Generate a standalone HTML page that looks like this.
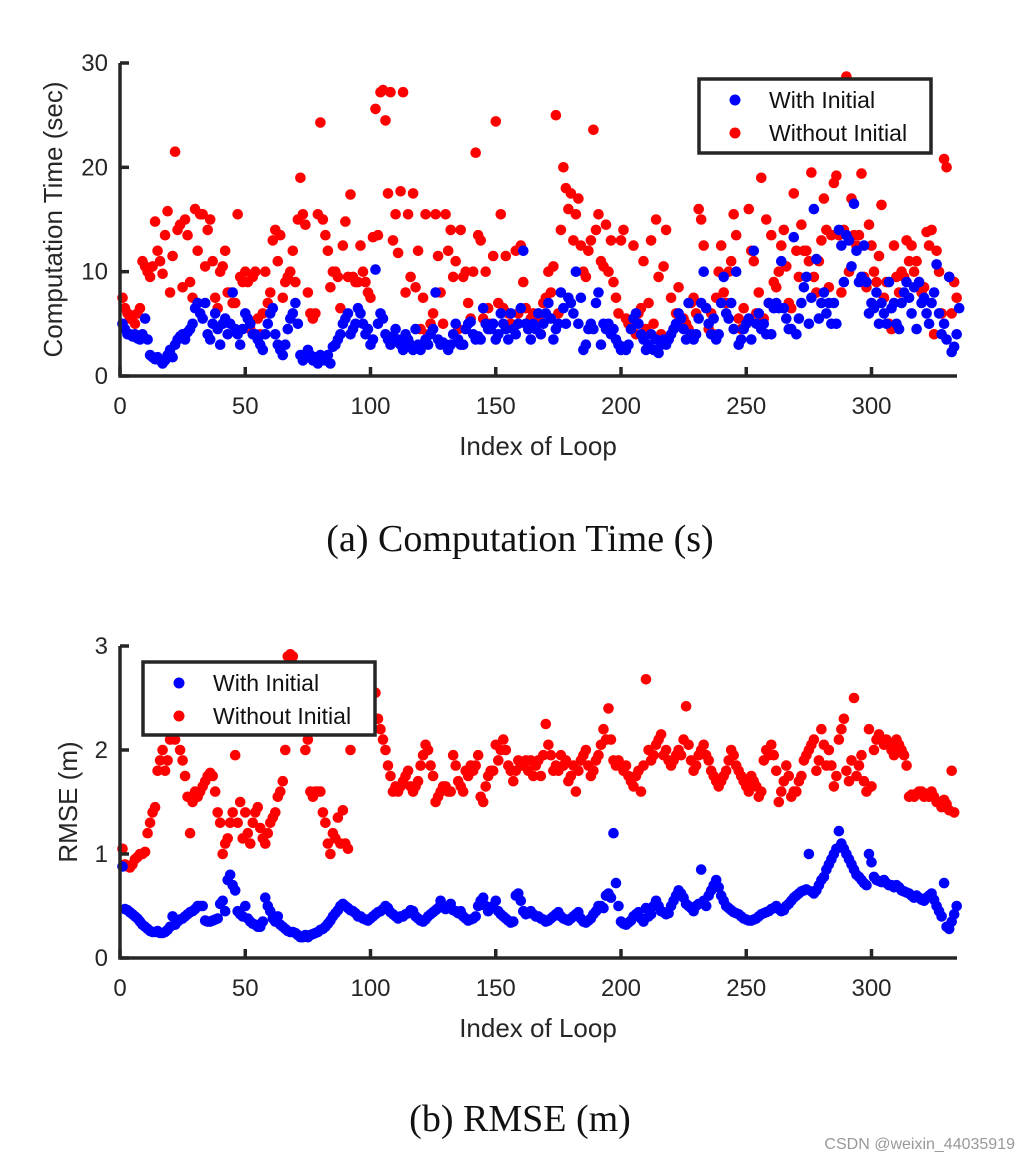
<!DOCTYPE html>
<html><head><meta charset="utf-8">
<style>
html,body{margin:0;padding:0;background:#fff;}
svg{display:block;font-family:"Liberation Sans",sans-serif;}
.tick{font-size:24px;fill:#262626;}
.lab{font-size:26px;fill:#262626;}
.cap{font-family:"Liberation Serif",serif;font-size:38px;fill:#111;}
</style></head>
<body>
<svg id="fig" width="1031" height="1163" viewBox="0 0 1031 1163">
<g id="chartA"></g>
<g id="chartB"></g>
<text class="cap" x="520" y="551" text-anchor="middle">(a)  Computation Time (s)</text>
<text class="cap" x="520" y="1131" text-anchor="middle">(b)  RMSE (m)</text>
<text x="1015" y="1149" text-anchor="end" font-size="16" fill="#999">CSDN @weixin_44035919</text>
</svg>
<script>
const xTicks=[0,50,100,150,200,250,300];
const yTicksA=[0,10,20,30];
const yTicksB=[0,1,2,3];
const timeWith=[5,4.5,4,4,3.8,4,3.6,3.5,4,5.5,3.5,2,1.8,1.6,1.8,1.5,1.2,1.5,2,2.5,1.8,3,3.5,3.8,4,3.5,4.2,4.5,5,6.5,7,6,5.5,7,4,3.5,5,6,4.5,3,5,5.5,4,5,8,4.5,4,3,4.5,6,5.5,5,4,4,3.5,3,2.5,4,5,6,6.5,4,3,2.5,2,3,4.5,5.5,6,7,5,2,1.5,2,2.5,2,1.5,1.8,1.2,2,1.8,1.5,2,1.2,2.8,3,3.5,4,5,5.5,6,4,4.5,5,6.5,6,5,4,4.5,3,3.5,10.2,5,6,5.5,4,3.5,3,3.8,4.5,3.5,3,2.5,4,3.5,3,2.5,4.5,3,2.5,3,3.5,3,4,4.5,8,3.5,3,3.2,3,2.5,3,4,5,3.5,3,3,4.5,5,5.2,4,3.5,3.8,3.5,6.5,5,4.5,4.5,5,3.5,4,6,5,4.5,3.5,6,4.5,4,5,6.5,12,5,4.5,3.5,5,4.5,6,4,5,6,7,5.5,3.5,4.5,5,8,6.5,5,7.5,7,6,10,5,7.5,2.5,3,4.5,5,4.5,7,8,3,5,4.5,5,4,4.5,3.5,3,2.5,2.8,2.5,3,4.5,5.5,6,5,4,3.5,2.5,3,4,2.5,3.5,2.2,3,3.5,3,3.5,4,4.5,5,6,5.5,4.5,3.5,7,4,3.5,4,5.5,7,10,6.5,5,4,5.5,3.5,4,7,9.5,6,5.5,7,4.5,10,3,3.5,4.5,5,5.5,3.5,12,5,6,4.5,5,4,7,4,6.5,7,6.5,11,6.5,5.5,4.5,4.5,13.3,4,5.5,7,8.5,9.5,5,7.5,16,11.2,5.5,7,8,6,7,5,7,5,14,12.5,9,13.5,13,10.5,16.5,12,9,9.5,12.5,9,6,7,6.5,8,5,7,6,5,9,6.5,7,5,4.5,7,8,9,7.5,6,8.5,4.5,9,7,7.5,6,5,7,8,10.7,6,4,5,3.5,9.5,2.3,2.8,4,6.5];
const timeWithout=[7.5,6.5,6,5.5,5.8,5,6,6.5,11,10.5,10,9.5,10.5,14.8,12,11,9.8,13.5,15.8,8,11.5,21.5,14,14.5,8.5,15,13.5,9,7.5,16,12,15.5,15.5,10.5,14,15,11,7.5,6.5,10,10.5,12,8,8,7,7,15.5,9.5,9,10,9,4.5,9.5,10,5.5,4,6,10,7,8,13,14,11,13.5,7.5,9,9.5,10,12,9,15,19,15.5,14.5,8,6,5.5,6,15.5,24.3,15,13.5,12,8.5,10,10,9.5,6.5,12.5,14.8,9.5,17.4,9.5,9,9,12.5,10,9,8,7.5,13.3,25.6,13.5,27.2,27.4,24.5,17.5,27.2,13,15.5,11.8,17.7,27.2,8,15.5,9.5,17.5,8.5,12,4.5,7.5,15.5,4,5,6,15.5,11.5,8,5,15.5,12,14,9.5,11,4.5,14,9.5,10,7,5.5,10,21.4,13.5,13,5.5,10,6.5,5,11.5,24.4,7,15.5,6.5,11.5,6,5,4.8,12,6,12.5,9,6.5,4.5,5.5,6,4.5,5.5,4,7,7.5,10,8,10.5,25,6,14,20,18,16,17.5,13,15.5,17,12.5,10,9.5,12,13,23.6,14,15.5,11,10.5,14.5,10,13,9,7.5,6,13,14,5.5,5,4.5,12.5,4,6,6.5,11,4.5,7,13,5,15,9.5,4,10.5,14,3.5,7.5,4.5,6,8.5,5,5.5,5,4.5,7,7.5,6,16,15,12.5,6.5,4.5,6,4,7.5,10,12.5,8,7,10,11,15.5,13.5,5.5,4.5,6.5,5,16,12,11,6,8,19,5.5,15,7,13.5,9,8.5,10,12.5,14,10.5,7,6.5,17.5,12,9.5,14.5,12,12,11,19.5,9.5,8,11,13,17,14,8.5,13.5,18.5,19.2,13.5,8,14,28.7,10,17,13.5,12.5,13.5,19.4,9.5,8.5,14.5,12.5,10,9,11.5,16.4,7.5,9,5,4.5,12.5,9.5,8,10,9.5,13,11,12.5,10,11,9,8,8.5,13.8,12.5,14,4,12,10,6,20.8,20,9.5,6,9,7.5];
const rmseWith=[0.88,0.47,0.46,0.44,0.42,0.4,0.38,0.35,0.32,0.3,0.28,0.26,0.25,0.25,0.26,0.24,0.24,0.25,0.27,0.3,0.4,0.32,0.35,0.37,0.38,0.4,0.42,0.44,0.45,0.47,0.5,0.5,0.5,0.36,0.35,0.35,0.36,0.37,0.38,0.52,0.55,0.45,0.75,0.8,0.7,0.65,0.45,0.42,0.4,0.5,0.38,0.35,0.33,0.32,0.3,0.3,0.35,0.58,0.5,0.45,0.38,0.35,0.4,0.32,0.3,0.28,0.26,0.25,0.25,0.24,0.22,0.2,0.2,0.22,0.2,0.22,0.23,0.24,0.25,0.27,0.28,0.3,0.33,0.36,0.4,0.43,0.46,0.5,0.52,0.5,0.48,0.46,0.45,0.43,0.4,0.4,0.38,0.37,0.36,0.38,0.4,0.42,0.44,0.45,0.47,0.5,0.48,0.44,0.42,0.4,0.38,0.4,0.4,0.42,0.43,0.46,0.45,0.4,0.38,0.36,0.35,0.37,0.4,0.42,0.44,0.46,0.48,0.55,0.5,0.47,0.48,0.52,0.46,0.45,0.43,0.45,0.4,0.38,0.36,0.37,0.38,0.4,0.5,0.55,0.58,0.5,0.45,0.48,0.5,0.55,0.45,0.42,0.4,0.38,0.36,0.34,0.35,0.6,0.62,0.55,0.45,0.42,0.43,0.45,0.42,0.4,0.4,0.38,0.37,0.35,0.36,0.38,0.4,0.42,0.44,0.4,0.38,0.37,0.36,0.38,0.4,0.42,0.44,0.38,0.35,0.34,0.36,0.38,0.42,0.45,0.5,0.5,0.48,0.6,0.62,0.58,1.2,0.72,0.5,0.35,0.33,0.32,0.34,0.36,0.4,0.42,0.44,0.38,0.35,0.48,0.4,0.42,0.5,0.55,0.5,0.45,0.44,0.42,0.43,0.5,0.55,0.6,0.65,0.62,0.58,0.52,0.5,0.48,0.45,0.5,0.52,0.85,0.55,0.5,0.6,0.65,0.7,0.75,0.68,0.6,0.55,0.5,0.48,0.46,0.44,0.43,0.42,0.4,0.38,0.37,0.36,0.36,0.37,0.38,0.4,0.42,0.43,0.44,0.45,0.47,0.48,0.5,0.47,0.45,0.46,0.5,0.52,0.55,0.58,0.6,0.62,0.64,0.65,0.66,1.0,0.64,0.62,0.65,0.7,0.75,0.78,0.85,0.9,0.95,1.0,1.05,1.22,1.1,1.05,1.0,0.95,0.9,0.85,0.8,0.78,0.75,0.72,0.7,1.0,0.92,0.78,0.75,0.74,0.73,0.75,0.72,0.7,0.7,0.68,0.7,0.68,0.65,0.64,0.63,0.62,0.6,0.58,0.6,0.58,0.56,0.55,0.58,0.6,0.62,0.56,0.5,0.45,0.4,0.72,0.3,0.28,0.35,0.42,0.5];
const rmseWithout=[1.05,0.9,0.88,0.87,0.9,0.95,0.97,1.0,1.0,1.02,1.2,1.3,1.4,1.45,1.8,1.9,2.0,1.8,1.9,2.1,2.15,2.1,2.2,2.0,1.9,1.75,1.55,1.2,1.5,1.6,1.55,1.6,1.65,1.7,1.75,1.78,1.75,1.6,1.4,1.3,1.0,1.1,1.15,1.3,1.4,1.95,1.3,1.5,1.15,1.4,1.2,1.1,1.3,1.4,1.45,1.25,1.15,1.1,1.2,1.3,1.35,1.4,1.55,1.6,1.7,2.0,2.9,2.92,2.9,2.8,2.6,2.5,2.2,2.0,2.1,1.6,1.55,1.6,1.6,1.6,1.4,1.3,1.1,1.0,1.2,1.15,1.35,1.1,1.42,1.1,1.05,2.0,2.3,2.3,2.4,2.35,2.6,2.35,2.3,2.2,2.3,2.55,2.3,2.2,2.1,2.0,1.85,1.75,1.6,1.65,1.6,1.65,1.7,1.75,1.8,1.65,1.6,1.65,1.7,1.85,1.95,2.05,2.0,1.85,1.75,1.5,1.55,1.6,1.65,1.65,1.6,1.6,1.95,1.85,1.7,1.65,1.6,1.8,1.75,1.85,1.8,1.85,1.95,1.55,1.5,1.65,1.75,1.8,1.8,2.05,1.9,2.0,2.1,2.0,1.85,1.8,1.7,1.8,1.9,1.85,1.85,1.9,1.8,1.9,1.75,1.85,1.9,1.75,1.95,2.25,2.05,1.95,1.8,1.85,1.8,1.95,1.85,1.9,1.7,1.75,1.85,1.6,1.8,1.9,1.95,2.0,1.85,1.75,1.8,1.9,1.95,2.05,2.2,2.1,2.4,2.1,1.9,1.85,1.9,1.85,1.8,1.85,1.75,1.7,1.65,1.75,1.8,1.6,1.85,2.68,2.0,1.9,1.95,2.05,2.1,2.15,1.95,2.0,1.9,1.85,1.9,1.95,2.0,1.95,2.1,2.42,2.05,1.9,1.8,1.85,1.95,2.0,2.05,1.95,1.9,1.8,1.75,1.7,1.65,1.7,1.75,1.8,1.9,2.0,1.95,1.85,1.8,1.75,1.7,1.65,1.6,1.75,1.7,1.65,1.55,1.6,1.9,2.0,1.95,2.05,1.95,1.8,1.5,1.6,1.7,1.85,1.75,1.55,1.6,1.6,1.7,1.75,1.9,1.95,2.0,2.05,2.1,1.8,1.9,2.2,2.05,1.85,2.0,1.85,1.65,1.75,2.1,2.2,2.3,1.8,1.7,1.9,2.5,1.75,1.85,1.95,1.7,1.6,2.2,1.65,2.0,2.1,2.15,2.1,2.05,2.1,2.05,2.0,1.95,2.1,2.05,2.0,1.95,1.85,1.55,1.57,1.55,1.58,1.6,1.6,1.55,1.58,1.55,1.6,1.55,1.5,1.5,1.45,1.52,1.48,1.42,1.8,1.4];

const NS='http://www.w3.org/2000/svg';
function mk(parent,tag,attrs){const e=document.createElementNS(NS,tag);for(const k in attrs)e.setAttribute(k,attrs[k]);parent.appendChild(e);return e;}

function drawChart(g,cfg){
  const x=v=>cfg.x0+v*cfg.xs;
  const y=v=>cfg.yBase-(v-0)*(cfg.yBase-cfg.yTop)/cfg.yMax;
  const marks=mk(g,'g',{});
  
  
  [[cfg.red,'#ff0000','without-initial-point'],[cfg.blue,'#0000ff','with-initial-point']].forEach(([arr,col,nm])=>{
    arr.forEach((v,i)=>{
      const c=mk(marks,'circle',{cx:x(i+1).toFixed(1),cy:y(v).toFixed(1),r:5.3,fill:col});
      
      
    });
  });
  const ax=mk(g,'g',{stroke:'#262626','stroke-width':3.5,fill:'none'});
  
  
  mk(ax,'path',{d:`M${cfg.x0} ${cfg.yTop}V${cfg.yBase}H${cfg.xEnd}`});
  cfg.yTicks.forEach(t=>{mk(ax,'path',{d:`M${cfg.x0} ${y(t)}h9`});});
  xTicks.forEach(t=>{mk(ax,'path',{d:`M${x(t)} ${cfg.yBase}v-9`});});
  cfg.yTicks.forEach(t=>{
    const tx=mk(g,'text',{class:'tick',x:cfg.x0-12,y:y(t)+8,'text-anchor':'end'});tx.textContent=t;
    
    
  });
  xTicks.forEach(t=>{
    const tx=mk(g,'text',{class:'tick',x:x(t),y:cfg.yBase+38,'text-anchor':'middle'});tx.textContent=t;
    
    
  });
  const xl=mk(g,'text',{class:'lab',x:538,y:cfg.yBase+79,'text-anchor':'middle'});xl.textContent='Index of Loop';
  
  
  const cy=(cfg.yTop+cfg.yBase)/2;
  const yl=mk(g,'text',{class:'lab',x:0,y:0,'text-anchor':'middle',transform:`translate(${cfg.ylx},${cy}) rotate(-90)`});yl.textContent=cfg.ylabel;
  
  
  const L=cfg.leg;
  const lg=mk(g,'g',{});
  
  
  mk(lg,'rect',{x:L.x,y:L.y,width:L.w,height:L.h,fill:'#fff',stroke:'#262626','stroke-width':3.5});
  [['With Initial','#0000ff'],['Without Initial','#ff0000']].forEach(([t,c],k)=>{
    const yy=L.y+21+k*33;
    const d=mk(lg,'circle',{cx:L.x+36,cy:yy,r:5.5,fill:c});
    
    
    const tt=mk(lg,'text',{x:L.x+70,y:yy+8,'font-size':23,fill:'#111'});tt.textContent=t;
    
    
  });
}
drawChart(document.getElementById('chartA'),{x0:120,xs:2.505,xEnd:957,yTop:63,yBase:376,yMax:30,yTicks:yTicksA,blue:timeWith,red:timeWithout,ylabel:'Computation Time (sec)',ylx:62,leg:{x:699,y:79,w:232,h:74}});
drawChart(document.getElementById('chartB'),{x0:120,xs:2.505,xEnd:957,yTop:646,yBase:958,yMax:3,yTicks:yTicksB,blue:rmseWith,red:rmseWithout,ylabel:'RMSE (m)',ylx:77,leg:{x:143,y:662,w:232,h:73}});
</script>
</body></html>
